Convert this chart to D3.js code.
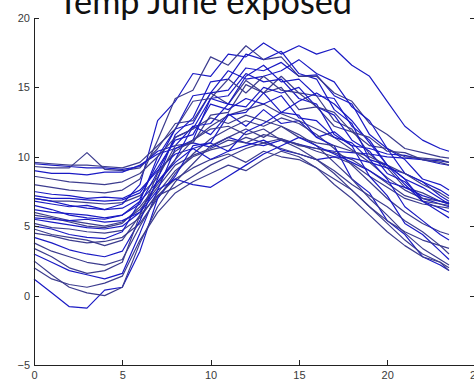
<!DOCTYPE html>
<html>
<head>
<meta charset="utf-8">
<script src="https://cdn.jsdelivr.net/npm/d3@7"></script>
<style>
  html, body { margin: 0; padding: 0; background: #fff; overflow: hidden; }
  #chart { width: 474px; height: 384px; }
  .tick-label { font-family: "Liberation Sans", Arial, sans-serif; font-size: 11px; fill: #3a3a3a; }
  .title { font-family: Lato, "Open Sans", sans-serif; font-size: 34px; fill: #111; }
</style>
</head>
<body>
<div id="chart"></div>
<script>
// hours of the day (last reading at half past 23)
const hours = [0, 1, 2, 3, 4, 5, 6, 7, 8, 9, 10, 11, 12, 13, 14, 15, 16, 17, 18, 19, 20, 21, 22, 23, 23.5];

// one array per day in June, temperature at each hour
const day01 = [9.5, 9.4, 9.3, 9.2, 9.2, 9.1, 9.3, 10.4, 10.8, 12.2, 11.6, 13.1, 12.2, 13.4, 12.4, 12.6, 11.4, 11.8, 10.8, 10.6, 10.2, 10.1, 9.8, 9.7, 9.6];
const day02 = [9.3, 9.2, 9.2, 10.3, 9.1, 9.0, 9.2, 10.6, 12.4, 12.6, 14.6, 13.8, 15.5, 14.6, 15.0, 13.4, 13.6, 12.2, 11.8, 10.8, 10.6, 10.0, 9.9, 9.8, 9.6];
const day03 = [9.0, 8.8, 8.8, 8.7, 8.9, 8.9, 9.4, 10.2, 10.6, 11.0, 10.7, 11.4, 11.0, 10.8, 11.2, 10.9, 10.6, 10.4, 10.3, 10.2, 10.0, 9.9, 9.8, 9.5, 9.4];
const day04 = [7.0, 6.8, 6.8, 6.7, 6.6, 6.7, 7.2, 8.5, 10.8, 11.0, 13.0, 13.2, 15.2, 14.6, 15.8, 14.6, 14.4, 12.6, 12.0, 10.2, 9.2, 7.8, 7.4, 6.8, 6.6];
const day05 = [6.5, 6.2, 5.8, 5.6, 5.5, 5.8, 6.6, 8.9, 11.4, 12.0, 14.2, 13.8, 15.8, 16.6, 15.4, 15.6, 14.4, 14.2, 12.2, 11.2, 9.4, 8.4, 6.8, 6.3, 6.0];
const day06 = [6.0, 5.7, 5.4, 5.2, 5.0, 5.3, 6.2, 7.8, 9.4, 10.1, 10.6, 11.2, 11.0, 11.6, 11.3, 10.9, 10.4, 10.0, 9.5, 8.6, 7.8, 7.0, 6.6, 6.4, 6.3];
const day07 = [5.5, 5.3, 5.1, 4.9, 4.8, 5.0, 6.0, 8.2, 9.8, 12.2, 12.4, 13.8, 13.6, 15.0, 14.6, 15.0, 13.6, 13.0, 11.2, 10.4, 8.8, 8.2, 7.0, 6.6, 6.4];
const day08 = [5.2, 4.9, 4.8, 4.6, 4.5, 4.7, 5.6, 7.4, 9.0, 10.0, 10.5, 10.8, 11.4, 11.0, 11.3, 10.8, 10.6, 10.3, 9.8, 9.0, 8.1, 7.2, 6.8, 6.6, 6.5];
const day09 = [6.8, 6.6, 6.4, 6.5, 6.2, 6.3, 7.0, 9.6, 12.0, 12.4, 14.6, 14.8, 16.4, 16.2, 16.8, 15.8, 15.9, 14.4, 13.8, 11.6, 10.6, 8.8, 8.2, 7.2, 6.8];
const day10 = [4.5, 4.3, 4.0, 3.8, 3.9, 4.2, 5.2, 7.0, 8.8, 10.2, 11.3, 12.0, 12.6, 12.2, 12.8, 12.4, 11.6, 10.6, 9.4, 8.2, 7.0, 6.0, 5.2, 4.6, 4.4];
const day11 = [7.5, 7.3, 7.2, 7.0, 7.1, 7.0, 7.6, 9.0, 10.2, 10.6, 11.0, 10.4, 10.8, 11.2, 10.5, 10.2, 9.8, 10.0, 9.9, 9.6, 9.2, 8.8, 8.2, 7.6, 7.2];
const day12 = [5.8, 5.6, 5.3, 5.0, 4.9, 5.2, 6.4, 8.0, 9.8, 11.2, 12.2, 13.0, 13.4, 13.8, 13.1, 12.6, 12.0, 11.4, 10.5, 9.6, 8.5, 7.6, 7.0, 6.8, 6.7];
const day13 = [1.2, 0.2, -0.8, -0.9, 0.4, 0.6, 3.2, 7.0, 8.6, 10.8, 11.0, 13.0, 13.2, 14.6, 13.2, 13.0, 11.4, 10.8, 8.4, 7.4, 5.4, 4.4, 2.8, 2.2, 1.8];
const day14 = [2.5, 1.5, 0.6, 0.2, 0.0, 0.6, 3.8, 6.4, 8.2, 9.5, 10.8, 11.4, 12.0, 11.4, 12.2, 11.6, 10.8, 9.6, 8.4, 7.0, 5.8, 4.5, 3.4, 2.6, 2.2];
const day15 = [3.0, 2.4, 1.8, 1.5, 1.2, 1.6, 4.5, 7.6, 10.6, 11.2, 14.2, 14.4, 16.0, 15.4, 15.6, 14.2, 13.8, 11.6, 10.8, 8.6, 7.2, 5.2, 4.4, 3.2, 2.6];
const day16 = [3.8, 3.2, 2.8, 2.4, 2.2, 2.6, 5.0, 7.2, 8.4, 9.2, 9.8, 10.2, 9.6, 10.4, 10.0, 9.8, 9.2, 8.4, 7.6, 6.4, 5.4, 4.6, 4.0, 3.6, 3.4];
const day17 = [4.2, 3.8, 3.3, 3.0, 2.8, 3.2, 5.4, 8.4, 11.6, 12.8, 15.4, 15.6, 17.4, 17.0, 17.6, 16.0, 15.6, 13.4, 12.4, 9.8, 8.4, 6.4, 5.4, 4.4, 4.0];
const day18 = [2.0, 1.2, 0.8, 0.6, 0.9, 1.4, 4.0, 6.0, 7.4, 8.2, 8.8, 9.4, 9.0, 9.8, 10.4, 10.0, 9.2, 8.0, 7.0, 5.8, 4.6, 3.6, 2.8, 2.4, 2.0];
const day19 = [7.0, 6.8, 6.5, 6.3, 6.2, 6.6, 8.0, 12.6, 14.0, 16.0, 15.8, 17.4, 17.2, 18.2, 17.4, 18.0, 17.4, 17.8, 16.6, 15.8, 14.0, 12.2, 11.2, 10.6, 10.4];
const day20 = [8.0, 7.8, 7.6, 7.5, 7.4, 7.6, 8.4, 11.2, 14.2, 14.8, 17.2, 16.6, 18.0, 17.0, 17.2, 15.8, 15.8, 14.6, 14.0, 12.4, 11.6, 10.6, 10.3, 10.0, 9.9];
const day21 = [5.0, 4.8, 4.4, 4.2, 4.1, 4.6, 6.8, 10.0, 12.0, 14.4, 14.6, 16.2, 15.6, 15.8, 16.2, 17.0, 16.0, 15.4, 13.6, 12.6, 10.6, 9.8, 8.4, 8.0, 7.6];
const day22 = [8.6, 8.4, 8.2, 8.1, 8.0, 8.2, 8.8, 10.0, 11.4, 12.0, 12.8, 12.4, 13.0, 12.6, 12.2, 11.4, 11.0, 10.8, 10.4, 10.0, 9.4, 8.8, 8.0, 7.4, 7.0];
const day23 = [6.2, 6.0, 5.9, 5.8, 5.6, 5.8, 6.8, 8.2, 9.6, 10.6, 9.8, 10.4, 11.8, 12.4, 13.2, 14.0, 14.6, 13.8, 12.6, 11.0, 9.4, 8.0, 6.8, 6.0, 5.6];
const day24 = [4.8, 4.4, 4.2, 4.0, 3.6, 4.0, 5.8, 7.2, 7.8, 8.6, 9.4, 10.0, 10.6, 11.0, 10.6, 10.2, 9.8, 9.0, 8.0, 7.2, 6.4, 5.4, 4.6, 3.6, 3.0];
const day25 = [7.2, 7.0, 7.0, 6.9, 6.8, 6.9, 7.4, 9.2, 11.2, 11.6, 13.8, 13.4, 14.2, 13.8, 14.4, 12.8, 12.6, 11.4, 11.0, 9.8, 9.4, 8.4, 7.8, 7.0, 6.6];
const day26 = [3.4, 2.8, 2.0, 1.6, 1.8, 2.4, 5.8, 8.8, 10.4, 11.2, 12.0, 12.2, 11.6, 12.0, 11.2, 10.6, 9.8, 8.8, 7.6, 6.4, 5.2, 4.0, 3.0, 2.4, 1.8];
const day27 = [5.6, 5.5, 5.4, 5.5, 5.3, 5.4, 6.0, 7.6, 8.4, 8.0, 7.8, 8.6, 9.4, 10.2, 10.8, 11.4, 10.8, 10.2, 9.6, 9.0, 8.2, 7.8, 7.2, 6.8, 6.6];
const day28 = [9.6, 9.5, 9.4, 9.4, 9.3, 9.2, 9.6, 10.8, 12.0, 14.0, 14.2, 15.6, 14.6, 15.8, 14.8, 14.6, 13.6, 13.2, 11.8, 11.4, 10.4, 10.3, 9.8, 9.6, 9.4];

const days = [day01, day02, day03, day04, day05, day06, day07, day08, day09, day10,
              day11, day12, day13, day14, day15, day16, day17, day18, day19, day20,
              day21, day22, day23, day24, day25, day26, day27, day28];

const xTicks = [0, 5, 10, 15, 20, 25];
const yTicks = [-5, 0, 5, 10, 15, 20];
const titleText = 'Temp June exposed';

function drawChart() {
    const width = 474;
    const height = 384;

    const svg = d3.select('#chart')
        .append('svg')
        .attr('width', width)
        .attr('height', height);

    // axes box, matlab style (right edge falls just outside the picture)
    const x = d3.scaleLinear().domain([0, 25]).range([34, 475.5]);
    const y = d3.scaleLinear().domain([-5, 20]).range([365, 18]);

    const line = d3.line()
        .x((d, i) => x(hours[i]))
        .y(d => y(d));

    svg.append('g')
        .selectAll('path')
        .data(days)
        .enter()
        .append('path')
        .attr('d', line)
        .attr('fill', 'none')
        .attr('stroke', (d, i) => i % 2 ? '#3c3c8e' : '#1a1ac4')
        .attr('stroke-width', 1.2)
        .attr('stroke-linejoin', 'round');

    // bottom axis, ticks point inwards
    const xAxis = svg.append('g')
        .attr('transform', `translate(0,${y(-5)})`)
        .call(d3.axisBottom(x).tickValues(xTicks).tickSizeInner(-5).tickSizeOuter(0).tickPadding(4));

    // left axis
    const yAxis = svg.append('g')
        .attr('transform', `translate(${x(0)},0)`)
        .call(d3.axisLeft(y).tickValues(yTicks).tickSizeInner(-5).tickSizeOuter(0).tickPadding(4));

    // right axis, only the ticks are on screen
    svg.append('g')
        .attr('transform', `translate(${x(25)},0)`)
        .call(d3.axisRight(y).tickValues(yTicks).tickSizeInner(-6).tickSizeOuter(0).tickFormat(''));

    svg.selectAll('.domain, .tick line')
        .attr('stroke', '#222')
        .attr('shape-rendering', 'crispEdges');

    xAxis.selectAll('.tick text').attr('class', 'tick-label').attr('dy', '0.9em');
    yAxis.selectAll('.tick text').attr('class', 'tick-label');

    // title sits over the top of the plot
    svg.append('rect')
        .attr('x', 0).attr('y', 0)
        .attr('width', width).attr('height', 17)
        .attr('fill', '#fff');

    svg.append('text')
        .attr('class', 'title')
        .attr('x', 58)
        .attr('y', 14)
        .attr('textLength', 294)
        .attr('lengthAdjust', 'spacingAndGlyphs')
        .text(titleText);

    // "20" label is drawn above the white strip
    yAxis.raise();
}

document.addEventListener('DOMContentLoaded', drawChart);
</script>
</body>
</html>
